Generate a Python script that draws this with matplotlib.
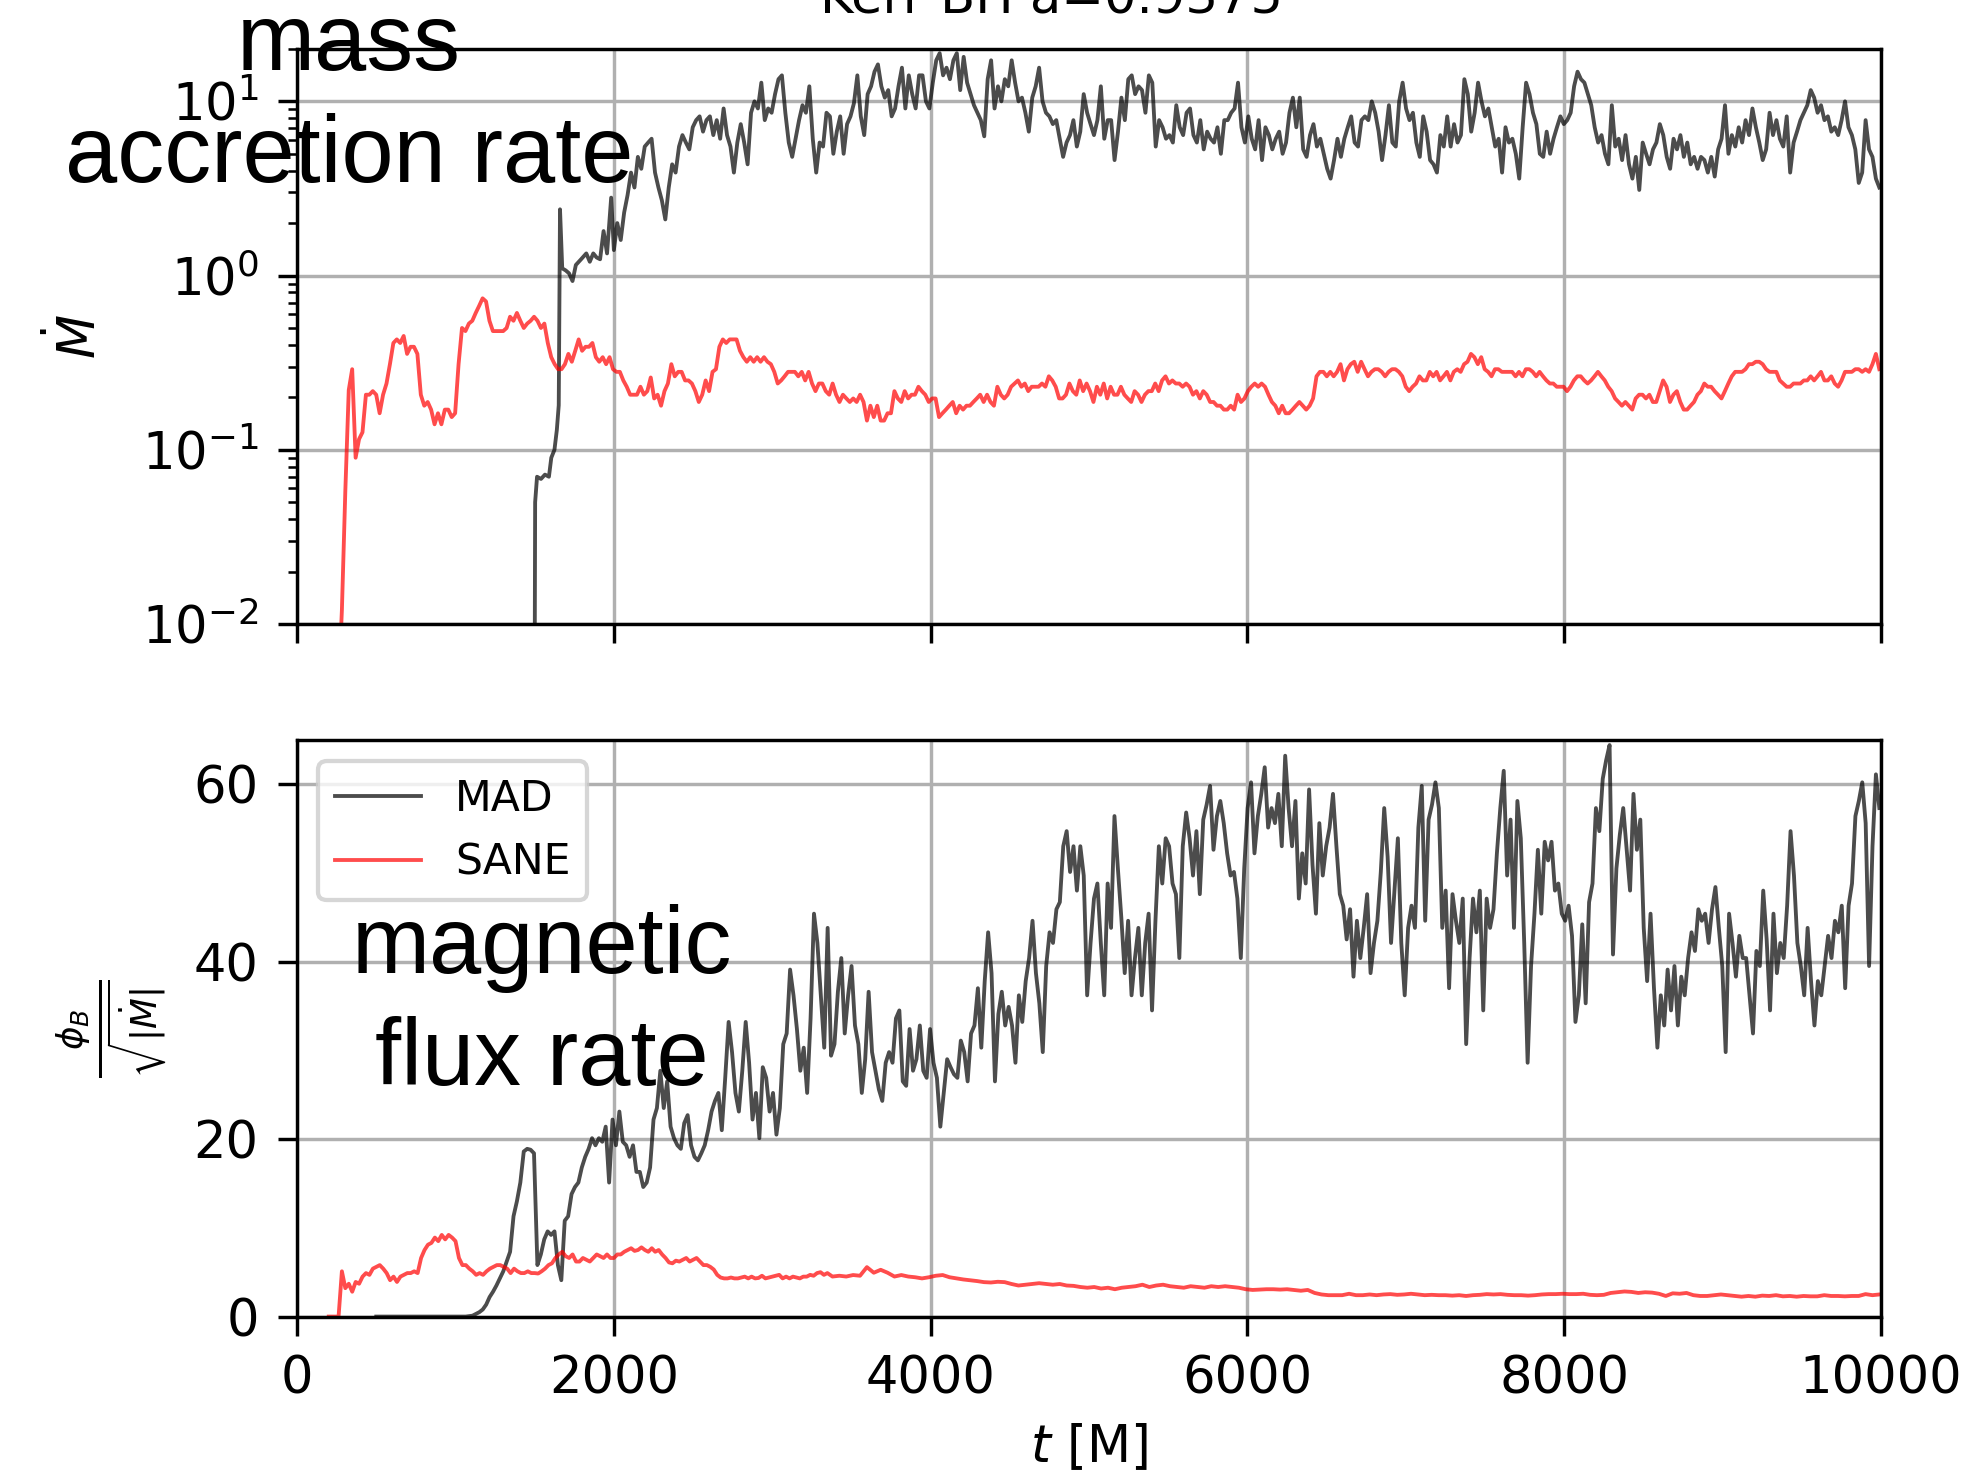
import numpy as np
from matplotlib import pyplot as plt

# ---- accretion rate, MAD run ----
# start-up phase, irregular sampling
mdot_mad_t0 = [1500, 1503, 1515, 1540, 1565, 1590, 1605, 1625, 1640, 1652, 1660, 1674, 1696,
               1717, 1739, 1760, 1793, 1826, 1848, 1870, 1891, 1913, 1935, 1957, 1983]
mdot_mad_v0 = [0.005, 0.05, 0.07, 0.068, 0.072, 0.07, 0.09, 0.1, 0.13, 0.18, 2.4, 1.1, 1.07,
               1.03, 0.93, 1.15, 1.24, 1.34, 1.2, 1.34, 1.27, 1.24, 1.8, 1.34, 2.8]
# t = 2000 ... 9989
mdot_mad = [1.4, 2.0, 1.6, 2.3, 2.9, 3.9, 3.2, 4.8, 4.1, 5.5, 5.8, 6.1, 3.9, 3.2, 2.7,
            2.1, 3.2, 4.35, 3.9, 5.5, 6.4, 5.8, 5.3, 7.1, 7.8, 8.2, 6.7, 7.8, 8.2, 6.4,
            7.8, 6.1, 9.1, 6.4, 5.5, 3.9, 5.8, 7.4, 5.8, 4.35, 8.6, 10.0, 9.1, 12.8, 7.8,
            9.1, 8.6, 11.0, 13.4, 14.1, 8.6, 5.8, 4.8, 6.1, 7.8, 9.5, 8.6, 12.2, 6.1, 3.9,
            5.8,
            5.5, 8.6, 8.2, 5.0, 6.7, 8.2, 5.0, 7.4, 8.2, 9.75,
            14.1, 8.2, 6.4, 11.0, 12.2, 14.8, 16.3, 12.2, 10.5, 11.6,
            8.2, 9.1, 12.2, 15.6, 9.1, 14.1, 11.0, 9.1, 14.1, 14.1,
            10.0, 9.1, 12.8, 17.2, 18.9, 14.1, 15.6, 13.4, 17.2, 18.9,
            11.6, 18.0, 12.8, 11.0, 9.5, 8.6, 7.8, 6.3, 13.4, 17.2,
            9.1, 12.2, 10.0, 13.4, 12.2, 17.2, 12.8, 10.0, 10.5, 8.6,
            6.7, 10.5, 12.2, 15.6, 10.0, 8.6, 8.2, 7.4, 7.8, 6.1,
            4.8, 5.8, 6.4, 7.8, 5.5, 6.7, 11.0, 8.6, 7.4, 6.4,
            7.8, 12.2, 6.1, 7.8, 7.8, 4.6, 6.7, 10.5, 7.8, 13.4,
            14.1, 11.0, 12.2, 11.6, 8.6, 14.1, 12.8, 5.5, 7.8, 7.1,
            6.1, 6.4, 5.8, 9.5, 7.1, 6.4, 8.6, 9.1, 6.4, 5.8,
            7.8, 5.3, 6.7, 6.1, 5.8, 7.1, 5.0, 7.8, 7.8, 8.6,
            9.1, 12.8, 7.1, 5.8, 8.2, 6.1, 5.3, 7.8, 4.6, 7.1,
            6.4, 5.3, 6.1, 6.7, 5.0, 5.8, 8.6, 10.5, 7.1, 10.5,
            5.3, 4.8, 6.4, 7.4, 5.5, 6.1, 5.0, 4.1, 3.6, 4.6,
            6.1, 4.8, 6.1, 7.1, 8.2, 5.8,
            5.5, 7.8, 8.2, 7.8, 10.0, 8.6, 6.7, 4.6, 6.4, 9.5,
            5.8, 5.5, 10.0, 12.8, 9.1, 7.8, 8.6, 5.8, 4.8, 8.2,
            6.7, 4.6, 4.35, 3.9, 6.4, 5.5, 8.2, 5.5, 7.4, 5.8,
            6.4, 13.4, 11.0, 6.7, 8.6, 12.8, 10.0, 8.2, 9.1, 7.1,
            5.5, 6.1, 3.9, 7.1, 5.8, 6.1, 5.0, 3.6, 7.1, 12.8,
            11.0, 8.6, 7.4, 5.0, 4.8, 6.7, 5.0, 6.1, 7.1, 8.2,
            7.4, 7.8, 8.6, 12.2, 14.8, 13.4, 12.8, 11.0, 9.5, 7.1,
            5.8, 6.4, 5.0, 4.35, 9.5, 5.5, 6.1, 4.6, 6.4, 4.35,
            3.6, 4.8, 3.1, 5.8, 5.0, 4.35, 5.3, 5.8, 7.4, 6.4,
            4.8, 4.1, 6.1, 5.3, 6.4, 4.8, 5.8, 4.35, 4.8, 4.1,
            4.8, 4.6, 3.9, 4.8, 3.7, 5.3, 6.1, 9.5, 5.0, 6.4,
            5.5, 7.1, 5.8, 7.8, 6.4, 9.1, 7.1, 5.8, 4.6, 5.3,
            8.6, 6.4, 7.8, 6.1, 5.5, 8.2, 3.9, 5.8, 6.7, 7.8,
            8.6, 9.5, 11.6, 10.5, 8.6, 9.5, 7.8, 8.2, 6.7, 7.1,
            6.4, 7.8, 10.0, 7.1, 6.4, 5.3, 3.4, 3.9, 7.8, 5.3,
            4.8, 3.6, 3.2]

# ---- accretion rate, SANE run ----  t = 283 ... 9989
mdot_sane = [0.012, 0.058, 0.22, 0.29, 0.09, 0.115, 0.126, 0.207, 0.207, 0.217,
             0.207, 0.162, 0.207, 0.24, 0.31, 0.41, 0.43, 0.41, 0.45, 0.355,
             0.39, 0.39, 0.355, 0.207, 0.179, 0.188, 0.17, 0.14, 0.162, 0.14,
             0.17, 0.17, 0.154, 0.162, 0.31, 0.50, 0.48, 0.53, 0.55, 0.61,
             0.67, 0.74, 0.71, 0.55, 0.48, 0.48, 0.48, 0.48, 0.50, 0.58,
             0.55, 0.61, 0.55, 0.50, 0.53, 0.55, 0.58, 0.55, 0.50, 0.53,
             0.41, 0.34, 0.31, 0.29, 0.29, 0.31, 0.355, 0.32, 0.37, 0.43,
             0.37, 0.39, 0.39, 0.41, 0.34, 0.32, 0.34, 0.31, 0.34, 0.29,
             0.28, 0.28, 0.25, 0.23, 0.207, 0.207, 0.207, 0.23, 0.207, 0.217,
             0.26, 0.197, 0.207, 0.179, 0.217, 0.24, 0.31, 0.264, 0.28, 0.28,
             0.25, 0.25, 0.24, 0.217, 0.188, 0.207, 0.25, 0.217, 0.28, 0.29,
             0.39, 0.43, 0.41, 0.43, 0.43, 0.43, 0.37, 0.34, 0.32, 0.34,
             0.32, 0.34, 0.32, 0.34, 0.32, 0.31, 0.28, 0.24, 0.25, 0.264,
             0.28, 0.28, 0.28, 0.264, 0.28, 0.25, 0.28, 0.24, 0.217, 0.24,
             0.24, 0.217, 0.207, 0.24, 0.207, 0.188, 0.207, 0.197, 0.188, 0.197,
             0.188, 0.207, 0.188, 0.147, 0.179, 0.154, 0.179, 0.147, 0.147, 0.162,
             0.162, 0.217, 0.197, 0.188, 0.217, 0.197, 0.207, 0.207, 0.23, 0.217,
             0.207, 0.188, 0.197, 0.197, 0.154, 0.162, 0.17, 0.179, 0.188, 0.162,
             0.179, 0.17, 0.179, 0.179, 0.188, 0.197, 0.207, 0.188, 0.207, 0.188,
             0.179, 0.23, 0.207, 0.197, 0.207, 0.23, 0.24, 0.25, 0.23, 0.24,
             0.217, 0.23, 0.23, 0.23, 0.24, 0.23, 0.264, 0.25, 0.23, 0.197,
             0.197, 0.207, 0.24, 0.217, 0.207, 0.25, 0.217, 0.24, 0.217, 0.188,
             0.23, 0.207, 0.24, 0.197, 0.23, 0.207, 0.207, 0.23, 0.207, 0.197,
             0.188, 0.217, 0.207, 0.188, 0.207, 0.217, 0.217, 0.24, 0.217, 0.25,
             0.264, 0.24, 0.25, 0.24, 0.24, 0.23, 0.24, 0.23, 0.207, 0.217,
             0.197, 0.217, 0.207, 0.188, 0.188, 0.179, 0.179, 0.17, 0.17, 0.179,
             0.17, 0.207, 0.188, 0.197, 0.217, 0.23, 0.24, 0.23, 0.24, 0.23,
             0.207, 0.188, 0.179, 0.162, 0.179, 0.162, 0.162, 0.17, 0.179, 0.188,
             0.179, 0.17, 0.179, 0.197, 0.264, 0.28, 0.28, 0.264, 0.28, 0.264,
             0.28, 0.31, 0.25, 0.29, 0.31, 0.32,
             0.28, 0.32, 0.29, 0.264, 0.28, 0.29, 0.29, 0.28, 0.264, 0.28,
             0.29, 0.29, 0.28, 0.264, 0.23, 0.217, 0.23, 0.24, 0.264, 0.25,
             0.25, 0.28, 0.264, 0.28, 0.25, 0.264, 0.28, 0.25, 0.28, 0.29,
             0.28, 0.31, 0.32, 0.355, 0.34, 0.31, 0.34, 0.29, 0.28, 0.264,
             0.29, 0.29, 0.28, 0.28, 0.28, 0.28, 0.264, 0.28, 0.264, 0.29,
             0.29, 0.28, 0.264, 0.28, 0.264, 0.25, 0.24, 0.24, 0.23, 0.23,
             0.23, 0.217, 0.23, 0.25, 0.264, 0.264, 0.25, 0.24, 0.25, 0.264,
             0.28, 0.264, 0.25, 0.23, 0.217, 0.197, 0.188, 0.179, 0.188, 0.179,
             0.17, 0.197, 0.207, 0.207, 0.197, 0.207, 0.188, 0.188, 0.217, 0.25,
             0.23, 0.188, 0.207, 0.217, 0.188, 0.17, 0.17, 0.179, 0.188, 0.207,
             0.217, 0.24, 0.23, 0.23, 0.217, 0.207, 0.197, 0.217, 0.24, 0.264,
             0.28, 0.28, 0.28, 0.29, 0.31, 0.31, 0.32, 0.32, 0.31, 0.29,
             0.28, 0.28, 0.28, 0.25, 0.24, 0.23, 0.23, 0.24, 0.24, 0.24,
             0.25, 0.25, 0.264, 0.25, 0.264, 0.28, 0.25, 0.25, 0.264, 0.24,
             0.23, 0.25, 0.28, 0.28, 0.28, 0.29, 0.29, 0.28, 0.29, 0.28,
             0.31, 0.355, 0.29]

# ---- magnetic flux, MAD run ----  t = 1000 ... 9989 (preceded by zero)
phi_mad = [0, 0, 0, 0, 0.05, 0.1, 0.3, 0.5, 0.8, 1.35,
           2.2, 2.8, 3.5, 4.3, 5.1, 6.2, 7.3, 11.3, 13.0, 15.1,
           18.6, 18.9, 18.8, 18.4, 5.8, 7.0, 8.7, 9.6, 9.2, 9.6,
           5.8, 4.1, 10.8, 11.3, 13.8, 14.6, 15.1, 16.8, 18.0, 18.9,
           20.1, 19.3, 20.1, 19.7, 21.4, 15.1, 22.2, 19.3, 23.1, 19.7,
           19.3, 18.0, 19.3, 16.3, 16.3, 14.6, 15.1, 16.8, 22.2, 23.5,
           27.7, 23.5, 26.5, 21.4, 20.1, 19.3, 18.9, 21.8, 22.7, 19.3,
           18.0, 17.6, 18.4, 19.3, 21.0, 23.1, 24.3, 25.2, 21.0, 26.9,
           33.2, 29.8, 25.2, 23.1, 27.7, 33.2, 28.6, 22.2, 25.2, 20.1,
           28.1, 26.9, 23.1, 25.2, 20.5, 23.5, 30.7, 31.9, 39.1, 36.2,
           32.4, 27.7, 30.3, 25.2, 33.6, 45.4, 42.1, 36.2, 30.3,
           43.8, 29.4, 30.7, 36.6, 40.4, 31.9, 36.2, 39.5, 32.8, 30.7,
           25.2, 29.0, 36.6, 29.8, 27.7, 25.6, 24.3, 28.6, 29.8, 28.6,
           33.6, 34.5, 26.5, 26.0, 32.4, 27.7, 29.0, 32.8, 27.7, 26.9,
           32.4, 28.6, 26.9, 21.4, 25.2, 29.0, 28.1, 27.3, 26.9, 31.1,
           29.8, 26.5, 31.9, 32.8, 37.0, 30.3, 37.8, 43.3, 38.7, 26.5,
           34.1, 36.6, 32.8, 34.9, 32.8, 28.6, 36.2, 33.2, 37.8, 40.4,
           44.6, 38.7, 35.3, 29.8, 39.5, 43.3, 42.1, 45.9, 46.7, 53.0,
           54.7, 50.1, 53.0, 48.0, 53.0, 49.7, 36.2, 42.1, 47.1, 48.8,
           42.1, 36.2, 48.8, 43.8, 56.4, 50.5, 45.0, 38.7, 44.6, 36.2,
           40.4, 43.8, 36.2, 42.1, 45.4, 34.5, 44.6, 53.0, 48.8, 53.9,
           53.0, 48.8, 47.6, 40.4, 53.0, 56.8, 53.9, 49.7, 54.7, 47.6,
           56.0, 57.7, 59.8, 52.6, 56.4, 58.1, 55.6, 52.2, 49.7, 50.1,
           47.1, 40.4, 50.5, 57.3, 60.2, 52.2, 56.4, 58.9, 61.9, 55.1,
           57.3, 55.6, 58.9, 53.0, 63.2, 57.3, 53.0, 58.1, 47.1, 52.2,
           48.8, 59.4, 50.9, 45.4, 55.6, 49.7, 53.0, 55.1, 58.9, 53.0,
           47.6, 46.3, 42.5, 45.9, 38.3, 44.6,
           40.4, 43.8, 47.6, 38.7, 42.1, 44.6, 50.1, 57.3, 51.8, 42.1,
           48.0, 53.9, 42.1, 36.2, 43.8, 46.3, 43.8, 55.1, 59.8, 44.6,
           56.0, 57.7, 60.2, 57.3, 43.8, 48.0, 37.0, 47.6, 44.6, 42.1,
           47.1, 30.7, 40.4, 47.1, 43.3, 48.0, 34.5, 47.1, 43.8, 45.9,
           52.2, 57.3, 61.5, 49.7, 56.0, 43.8, 58.1, 53.9, 42.1, 28.6,
           39.5, 45.4, 52.6, 45.4, 53.5, 51.4, 53.5, 48.0, 48.8, 45.4,
           44.6, 46.3, 42.9, 33.2, 36.2, 44.2, 35.3, 46.7, 48.8, 57.3,
           54.7, 60.6, 62.7, 64.4, 40.8, 50.5, 54.3, 57.3, 52.6, 48.0,
           58.9, 52.6, 56.0, 43.8, 37.8, 45.4, 37.0, 30.3, 36.2, 32.8,
           39.1, 34.5, 39.5, 32.8, 38.3, 36.2, 40.4, 43.3, 41.2, 45.9,
           44.6, 45.4, 42.1, 45.9, 48.4, 43.8, 39.5, 29.8, 45.4, 42.1,
           38.3, 42.9, 40.4, 40.4, 36.2, 31.9, 41.2, 39.5, 48.0, 42.5,
           34.5, 45.4, 38.7, 42.1, 40.4, 46.3, 54.7, 49.7, 42.1, 39.5,
           36.2, 43.8, 37.8, 32.8, 37.8, 36.2, 39.5, 42.9, 40.4, 44.6,
           43.3, 46.3, 37.0, 46.3, 48.8, 56.4, 58.1, 60.2, 55.6, 39.5,
           53.0, 61.1, 57.3]

# ---- magnetic flux, SANE run ----
# t = 283 ... 3348
phi_sane_a = [5.1, 3.2, 3.7, 2.8, 3.9, 3.7, 4.5, 4.9, 4.7, 5.4,
              5.6, 5.8, 5.4, 4.9, 4.1, 4.5, 3.9, 4.5, 4.7, 4.9,
              4.9, 5.1, 4.9, 6.6, 7.5, 8.1, 8.3, 8.9, 8.5, 9.2,
              8.7, 9.2, 8.9, 8.5, 6.6, 5.8, 5.8, 5.4, 5.1, 4.7,
              4.9, 4.7, 5.1, 5.4, 5.6, 5.8, 5.8, 5.6, 5.4, 4.9,
              5.4, 5.1, 4.9, 4.9, 5.1, 4.9, 4.9, 4.85, 5.1, 5.4,
              5.8, 6.0, 6.6, 7.0, 7.3, 6.8, 6.6, 7.0, 6.2, 6.2,
              6.6, 6.4, 6.2, 6.6, 7.0, 6.8, 6.6, 7.0, 6.6, 6.6,
              7.0, 7.0, 7.3, 7.5, 7.7, 7.4, 7.5, 7.8, 7.5, 7.3,
              7.7, 7.3, 7.5, 7.0, 6.6, 6.1, 6.0, 6.3, 6.2, 6.4,
              6.6, 6.2, 6.4, 6.6, 6.2, 5.8, 5.8, 5.6, 5.3, 4.7,
              4.4, 4.3, 4.3, 4.4, 4.3, 4.3, 4.4, 4.5, 4.3, 4.5,
              4.3, 4.35, 4.6, 4.3, 4.4, 4.5, 4.6, 4.7, 4.3, 4.5,
              4.3, 4.5, 4.4, 4.3, 4.5, 4.5, 4.7, 4.6, 4.9, 5.0,
              4.7, 4.9]
# t = 3380 ... 6685
phi_sane_b = [4.51, 4.6, 4.51, 4.68, 4.6, 5.57, 4.94, 5.27, 4.94, 4.51,
              4.68, 4.51, 4.43, 4.3, 4.43, 4.6, 4.68, 4.43, 4.3, 4.18,
              4.09, 4.0, 3.88, 3.84, 3.92, 3.88, 3.67, 3.5, 3.59, 3.67,
              3.76, 3.67, 3.59, 3.67, 3.5, 3.46, 3.33, 3.25, 3.33, 3.16,
              3.25, 3.08, 3.25, 3.33, 3.42, 3.59, 3.33, 3.5, 3.59, 3.42,
              3.33, 3.25, 3.42, 3.33, 3.25, 3.42, 3.33, 3.42, 3.33, 3.25,
              3.08, 3.0, 3.04, 3.08, 3.08, 3.04, 3.08, 3.0, 2.91, 3.0,
              2.66, 2.49, 2.41, 2.41, 2.41, 2.57, 2.41]
# t = 6728 ... 9989
phi_sane_c = [2.41, 2.49, 2.41, 2.49, 2.53, 2.45, 2.49, 2.57, 2.49, 2.41,
              2.45, 2.41, 2.41, 2.36, 2.41, 2.32, 2.41, 2.45, 2.53, 2.49,
              2.53, 2.45, 2.41, 2.41, 2.36, 2.41, 2.49, 2.53, 2.53, 2.57,
              2.53, 2.53, 2.57, 2.45, 2.41, 2.45, 2.66, 2.74, 2.83, 2.78,
              2.66, 2.74, 2.7, 2.57, 2.32, 2.62, 2.57, 2.66, 2.41, 2.32,
              2.32, 2.41, 2.49, 2.41, 2.32, 2.24, 2.32, 2.24, 2.36, 2.32,
              2.41, 2.28, 2.32, 2.24, 2.32, 2.28, 2.28, 2.41, 2.32, 2.32,
              2.28, 2.32, 2.32, 2.53, 2.41, 2.49]

# time axes
t_mdot_mad = np.concatenate([mdot_mad_t0, np.linspace(2000, 9989, len(mdot_mad))])
v_mdot_mad = np.concatenate([mdot_mad_v0, mdot_mad])
t_mdot_sane = np.concatenate([[265], np.linspace(283, 9989, len(mdot_sane))])
v_mdot_sane = np.concatenate([[0.005], mdot_sane])
t_phi_mad = np.concatenate([[500], np.linspace(1000, 9989, len(phi_mad))])
v_phi_mad = np.concatenate([[0], phi_mad])
t_phi_sane = np.concatenate([[200, 262],
                             np.linspace(283, 3348, len(phi_sane_a)),
                             np.linspace(3380, 6685, len(phi_sane_b)),
                             np.linspace(6728, 9989, len(phi_sane_c))])
v_phi_sane = np.concatenate([[0, 0], phi_sane_a, phi_sane_b, phi_sane_c])

fig = plt.figure(figsize=(1966 / 307, 1473 / 307), dpi=307)
ax1 = fig.add_axes([0.1511, 0.5764, 0.8057, 0.3904])
ax2 = fig.add_axes([0.1511, 0.1062, 0.8057, 0.3916], sharex=ax1)

ax1.semilogy(t_mdot_mad, v_mdot_mad, color='k', alpha=0.7, lw=0.9, label='MAD')
ax1.semilogy(t_mdot_sane, v_mdot_sane, color='r', alpha=0.7, lw=0.9, label='SANE')
ax1.set_ylim(1e-2, 20)
ax1.set_ylabel(r'$\dot{M}$', fontsize=12)
ax1.grid(True)
plt.setp(ax1.get_xticklabels(), visible=False)

ax2.plot(t_phi_mad, v_phi_mad, color='k', alpha=0.7, lw=0.9, label='MAD')
ax2.plot(t_phi_sane, v_phi_sane, color='r', alpha=0.7, lw=0.9, label='SANE')
ax2.set_ylim(0, 65)
ax2.set_xlim(0, 10000)
ax2.set_ylabel(r'$\frac{\phi_B}{\sqrt{|\dot{M}|}}$', fontsize=12)
ax2.set_xlabel(r'$t$ [M]', fontsize=12)
ax2.grid(True)
ax2.legend(loc='upper left')

for ax in (ax1, ax2):
    ax.tick_params(which='major', labelsize=12, length=4.5, pad=4.5)
ax1.yaxis.set_label_coords(-0.12, 0.5)
ax2.yaxis.set_label_coords(-0.081, 0.5)

fig.text(0.5346, 0.991, 'Kerr BH a=0.9375', ha='center', va='baseline', fontsize=12)
# va='baseline' puts the last line on y
fig.text(0.1775, 0.8764, 'mass\naccretion rate', ha='center', va='baseline',
         multialignment='center', linespacing=1.34, fontsize=22, family='Liberation Sans')
fig.text(0.2757, 0.2634, 'magnetic\nflux rate', ha='center', va='baseline',
         multialignment='center', linespacing=1.34, fontsize=22, family='Liberation Sans')

plt.savefig('out.png', dpi=307)
